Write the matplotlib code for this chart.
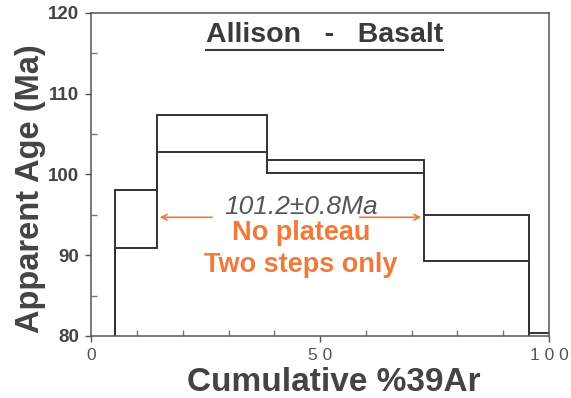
import matplotlib
matplotlib.use("Agg")
import matplotlib.pyplot as plt
import numpy as np

plt.rcParams['font.family'] = ['Liberation Sans', 'DejaVu Sans']

# step boundaries (cumulative %39Ar) and apparent age envelopes (Ma)
edges = [0, 5.1, 14.3, 38.4, 72.7, 95.7, 100]
upper = [79.0, 98.1, 107.4, 101.8, 95.0, 80.4]
lower = [79.0, 90.9, 102.8, 100.2, 89.3, 79.0]

plateau_x = [14.3, 72.7]
plateau_y = 94.7
plateau_txt = "101.2\u00b10.8Ma"

ink = '#333333'
orange = '#f07a3c'

fig = plt.figure(figsize=(5.71, 3.98), dpi=100)
ax = fig.add_axes([0.1602, 0.1558, 0.8012, 0.8116])

ax.stairs(upper, edges, baseline=None, color=ink, lw=1.4)
ax.stairs(lower, edges, baseline=None, color=ink, lw=1.4)

ax.set_xlim(0, 100)
ax.set_ylim(80, 120)

for s in ax.spines.values():
    s.set_color('#555555')
    s.set_linewidth(1.1)

ax.set_yticks([80, 90, 100, 110, 120])
ax.set_yticks([85, 95, 105, 115], minor=True)
ax.set_yticklabels(['80', '90', '100', '110', '120'], fontsize=13.5,
                   fontweight='bold', color='#444444')
ax.set_xticks([0, 50, 100])
ax.set_xticks([10, 20, 30, 40, 60, 70, 80, 90], minor=True)
ax.set_xticklabels(['0', '5 0', '1 0 0'], fontsize=12.5, color='#555555')
ax.tick_params(axis='both', which='major', direction='out', length=4,
               width=1, color='#555555', pad=5)
ax.tick_params(axis='both', which='minor', direction='in', length=4,
               width=1, color='#777777')

ax.set_ylabel('Apparent Age (Ma)', fontsize=23.5, fontweight='bold',
              color='#444444')
ax.yaxis.set_label_coords(-0.1, 0.455)
ax.set_xlabel('Cumulative %39Ar', fontsize=24, fontweight='bold',
              color='#444444')
ax.xaxis.set_label_coords(0.53, -0.095)

# title with underline
title = ax.text(51.0, 116.4, 'Allison   -   Basalt', fontsize=20.5,
                fontweight='bold', color='#3a3a3a', ha='center',
                va='baseline')
fig.canvas.draw()
bb = title.get_window_extent().transformed(ax.transData.inverted())
ax.plot([bb.x0, bb.x1], [115.4, 115.4], color='#3a3a3a', lw=1.5)

# plateau-style annotation
ax.annotate('', xy=(plateau_x[0], plateau_y), xytext=(27.0, plateau_y),
            arrowprops=dict(arrowstyle='->', color=orange, lw=1.2))
ax.annotate('', xy=(plateau_x[1], plateau_y), xytext=(58.0, plateau_y),
            arrowprops=dict(arrowstyle='->', color=orange, lw=1.2))
ax.text(45.8, 96.0, plateau_txt, fontsize=19, fontstyle='italic',
        color='#555555', ha='center', va='center')
ax.text(45.8, 92.7, 'No plateau', fontsize=19.5, fontweight='bold',
        color=orange, ha='center', va='center')
ax.text(45.8, 88.8, 'Two steps only', fontsize=19.5, fontweight='bold',
        color=orange, ha='center', va='center')

fig.savefig('out.png', dpi=100)
